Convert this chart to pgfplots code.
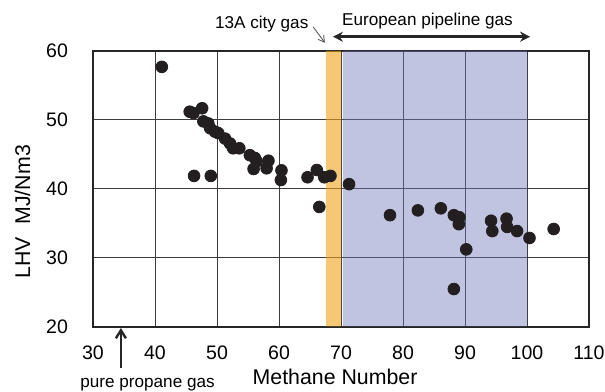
\documentclass[border=0pt]{standalone}
\usepackage{fontspec}
\setmainfont{Liberation Sans}
\usepackage{pgfplots}
\pgfplotsset{compat=1.18}
\usetikzlibrary{arrows.meta}
\definecolor{pt}{RGB}{35,31,32}
\definecolor{bandorange}{RGB}{242,163,22}
\definecolor{bandblue}{RGB}{114,121,185}
\definecolor{gridc}{RGB}{60,60,60}
\begin{document}
\begin{tikzpicture}
\begin{axis}[
  scale only axis,
  width=248bp, height=138bp,
  xmin=30, xmax=110, ymin=20, ymax=60,
  xtick={30,40,...,110}, ytick={20,30,...,60},
  grid=major,
  major grid style={draw=gridc, line width=0.5bp},
  axis line style={draw=black!85, line width=0.6bp},
  major tick length=0pt,
  clip=false,
  /pgf/number format/assume math mode=true,
  ticklabel style={font=\fontsize{9.8}{12}\selectfont},
  xticklabel style={inner sep=0pt, yshift=-9bp},
  yticklabel style={xshift=-9bp},
  xlabel={Methane Number},
  ylabel={LHV\hspace{0.6em}MJ/Nm3},
  every axis x label/.style={at={(rel axis cs:0.488,-0.181)},anchor=center,inner sep=0pt,font=\fontsize{10.7}{12}\selectfont},
  every axis y label/.style={at={(rel axis cs:-0.142,0.417)},rotate=90,anchor=center,inner sep=0pt,font=\fontsize{10.7}{12}\selectfont},
]
\addplot[only marks, mark=*, mark size=2.95pt, mark options={fill=pt, draw=pt}] coordinates {
(41.1,57.7) (45.6,51.2) (46.2,51.0) (47.6,51.7) (47.8,49.8) (48.6,49.5)
(48.9,48.8) (49.7,48.3) (50.2,48.1) (51.3,47.3) (52.1,46.6) (52.6,45.9)
(53.6,45.9) (55.3,44.9) (56.1,44.5) (56.4,44.0) (55.9,42.9) (58.3,44.1)
(58.0,43.0) (46.3,41.9) (49.0,41.9) (60.4,42.7) (60.3,41.3) (64.6,41.7)
(66.1,42.75) (67.3,41.7) (68.3,41.9) (71.3,40.7) (66.5,37.4) (77.9,36.2)
(82.4,36.9) (86.1,37.2) (88.2,36.2) (89.1,35.9) (89.0,34.9) (90.2,31.25)
(88.2,25.5) (94.2,35.4) (94.4,33.9) (96.7,35.7) (96.8,34.5) (98.4,33.9)
(100.4,32.9) (104.3,34.2)
};
\addplot[draw=none, fill=bandorange, fill opacity=0.6] coordinates {(67.6,20.1) (70,20.1) (70,60) (67.6,60) (67.6,20.1)};
\addplot[draw=none, fill=bandblue, fill opacity=0.44] coordinates {(70.3,20.1) (100,20.1) (100,60) (70.3,60) (70.3,20.1)};
% annotations
\addplot[{Stealth[length=5bp,width=5bp]}-{Stealth[length=5bp,width=5bp]}, line width=1.4bp, black!85] coordinates {(68.7,62.07) (100.5,62.07)};
\addplot[-{Straight Barb[length=3bp,width=3.5bp]}, line width=0.4bp, black!70] coordinates {(65.5,63.5) (67.4,61.2)};
\addplot[-{Straight Barb[length=4bp,width=5bp]}, line width=1.2bp, black!85] coordinates {(34.5,14.06) (34.5,19.85)};
\node[anchor=east, inner sep=0pt, font=\fontsize{8.6}{10}\selectfont] at (axis cs:64.8,63.9) {13A city gas};
\node[anchor=center, inner sep=0pt, font=\fontsize{8.6}{10}\selectfont] at (axis cs:83.95,64.3) {European pipeline gas};
\node[anchor=base west, inner sep=0pt, font=\fontsize{8.6}{10}\selectfont] at (axis cs:27.9,11.3) {pure propane gas};
\path (axis cs:15.0,10.58) rectangle (axis cs:112.58,67.39);
\end{axis}
\end{tikzpicture}
\end{document}
